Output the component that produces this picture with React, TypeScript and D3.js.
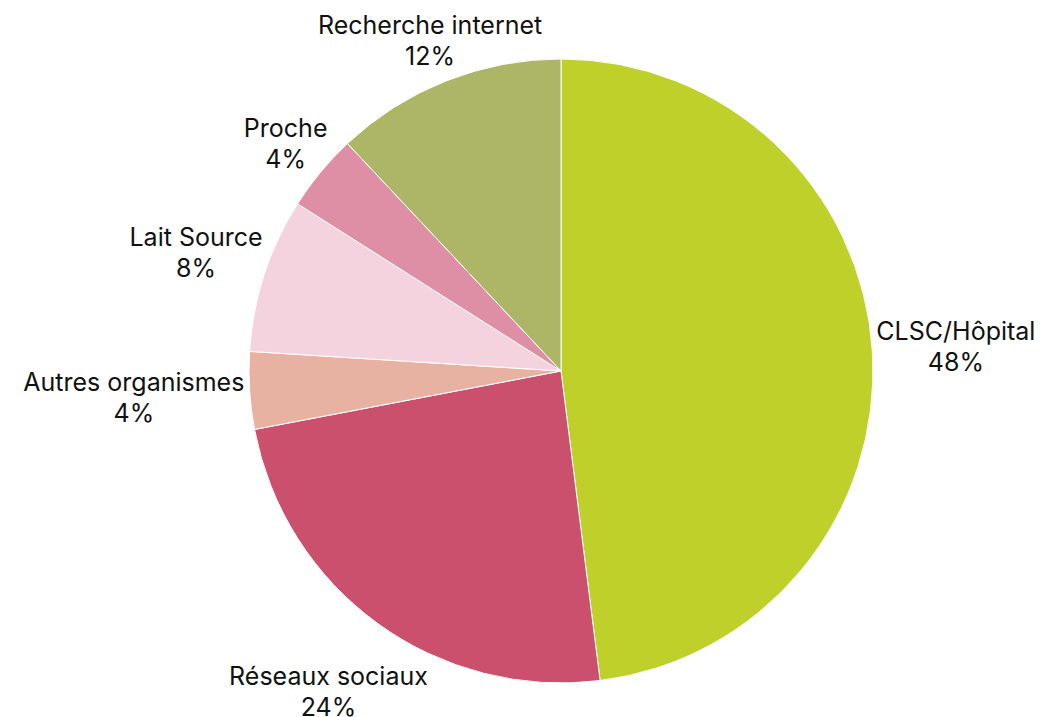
import * as d3 from "d3";

const categories = [
  "CLSC/Hôpital",
  "Réseaux sociaux",
  "Autres organismes",
  "Lait Source",
  "Proche",
  "Recherche internet",
];
const values = [48, 24, 4, 8, 4, 12];
const colors = ["#bfd02b", "#ca506e", "#e8b2a3", "#f4d3de", "#de8fa5", "#adb566"];

const width = 1051;
const height = 717;
const cx = 561;
const cy = 371;
const radius = 312;
const fontSize = 25;
const lineGap = 31;
const capHeight = 18;
const labelDist = 316;
const fontFamily = "Inter, 'Noto Sans', sans-serif";

const measure = (() => {
  const canvas = document.createElement("canvas");
  const ctx = canvas.getContext("2d")!;
  ctx.font = `${fontSize}px ${fontFamily}`;
  return (s: string) => ctx.measureText(s).width;
})();

// distance from the pie centre to the nearest point of a box centred at (x, y)
const nearest = (x: number, y: number, w: number, h: number) => {
  const nx = Math.max(Math.abs(x) - w / 2, 0);
  const ny = Math.max(Math.abs(y) - h / 2, 0);
  return Math.hypot(nx, ny);
};

const App = () => {
  const pie = d3
    .pie<number>()
    .sort(null)
    .value((d) => d);
  const arcs = pie(values);
  const arc = d3
    .arc<d3.PieArcDatum<number>>()
    .innerRadius(0)
    .outerRadius(radius);

  const labels = arcs.map((a, i) => {
    const mid = (a.startAngle + a.endAngle) / 2;
    const s = Math.sin(mid);
    const c = -Math.cos(mid);
    const pct = `${values[i]}%`;
    const w = Math.max(measure(categories[i]), measure(pct));
    const h = capHeight + lineGap;
    const target = labelDist + 10 * c;
    let lo = radius;
    let hi = radius + 400;
    for (let k = 0; k < 40; k++) {
      const m = (lo + hi) / 2;
      if (nearest(m * s, m * c, w, h) < target) lo = m;
      else hi = m;
    }
    const x = cx + lo * s;
    const y = cy + lo * c;
    return { x, top: y - h / 2, name: categories[i], pct };
  });

  return (
    <svg
      width={width}
      height={height}
      style={{ position: "absolute", left: 0, top: 0, background: "#fff" }}
    >
      <g transform={`translate(${cx},${cy})`}>
        {arcs.map((a, i) => (
          <path
            key={i}
            d={arc(a) as string}
            fill={colors[i]}
            stroke="#fff"
            strokeWidth={1}
          />
        ))}
      </g>
      {labels.map((l, i) => (
        <text
          key={i}
          textAnchor="middle"
          fontFamily={fontFamily}
          fontSize={fontSize}
          fill="#111"
        >
          <tspan x={l.x} y={l.top + capHeight}>
            {l.name}
          </tspan>
          <tspan x={l.x} y={l.top + capHeight + lineGap}>
            {l.pct}
          </tspan>
        </text>
      ))}
    </svg>
  );
};

export default App;
